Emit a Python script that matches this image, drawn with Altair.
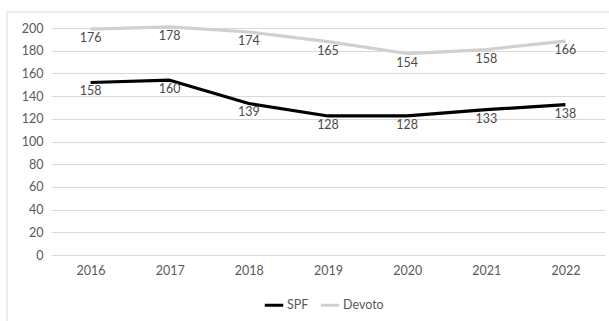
import altair as alt
import pandas as pd

# Yearly figures for the two series
years = ["2016", "2017", "2018", "2019", "2020", "2021", "2022"]
spf_values = [152, 154, 133.5, 122.5, 122.5, 128, 132.5]
devoto_values = [199, 201, 196.5, 188, 177.5, 181, 188.5]
# Data-label texts shown under each point
spf_labels = [158, 160, 139, 128, 128, 133, 138]
devoto_labels = [176, 178, 174, 165, 154, 158, 166]
series_names = ["SPF", "Devoto"]
series_colors = ["#000000", "#d0d0d0"]
y_ticks = [0, 20, 40, 60, 80, 100, 120, 140, 160, 180, 200]

rows = []
for name, vals, labs in [("SPF", spf_values, spf_labels), ("Devoto", devoto_values, devoto_labels)]:
    for yr, v, lab in zip(years, vals, labs):
        rows.append({"year": yr, "series": name, "value": v, "label": str(lab)})
df = pd.DataFrame(rows)

FONT = "Lato"
GREY_TEXT = "#595959"

x_enc = alt.X("year:O", scale=alt.Scale(type="point", padding=0.5, domain=years),
              axis=alt.Axis(title=None, labelAngle=0, domain=False, ticks=False,
                            labelPadding=9, labelFontSize=12.5, labelColor=GREY_TEXT,
                            labelFont=FONT, grid=False))
y_enc = alt.Y("value:Q", scale=alt.Scale(domain=[0, 200], nice=False, zero=True),
              axis=alt.Axis(title=None, values=y_ticks, tickCount=11, domain=False, ticks=False,
                            labelOverlap=False, labelFlush=False,
                            labelPadding=8, labelFontSize=12.5, labelColor=GREY_TEXT,
                            labelFont=FONT, grid=True, gridColor="#d9d9d9", gridWidth=1))

lines = alt.Chart(df).mark_line(strokeWidth=3.2, strokeJoin="round").encode(
    x=x_enc,
    y=y_enc,
    color=alt.Color("series:N", sort=series_names,
                    scale=alt.Scale(domain=series_names, range=series_colors),
                    legend=alt.Legend(title=None, orient="none", direction="horizontal",
                                      legendX=212, legendY=266, symbolType="stroke",
                                      symbolStrokeWidth=3, symbolSize=340,
                                      labelFontSize=12.5, labelColor=GREY_TEXT, labelFont=FONT,
                                      columnPadding=5, labelOffset=2)),
    detail="series:N",
)

labels = alt.Chart(df).mark_text(baseline="top", dy=3, fontSize=12.5, font=FONT,
                                 color="#4a4a4a").encode(
    x=alt.X("year:O"),
    y=alt.Y("value:Q"),
    text="label:N",
)

edge = pd.DataFrame({"edge": [0]})
border_top = alt.Chart(edge).mark_rule(color="#d9d9d9", strokeWidth=1).encode(
    x=alt.value(-44), x2=alt.value(600), y=alt.value(-16))
border_left = alt.Chart(edge).mark_rule(color="#d9d9d9", strokeWidth=1).encode(
    x=alt.value(-44), y=alt.value(-16), y2=alt.value(300))

chart = alt.layer(border_top, border_left, lines, labels).properties(
    width=554, height=227,
    autosize=alt.AutoSizeParams(type="none"),
    padding={"left": 51, "top": 28, "right": 4, "bottom": 66},
    background="white",
).configure_view(stroke=None)

chart.save("out.html", embed_options={"renderer": "svg", "actions": False})
